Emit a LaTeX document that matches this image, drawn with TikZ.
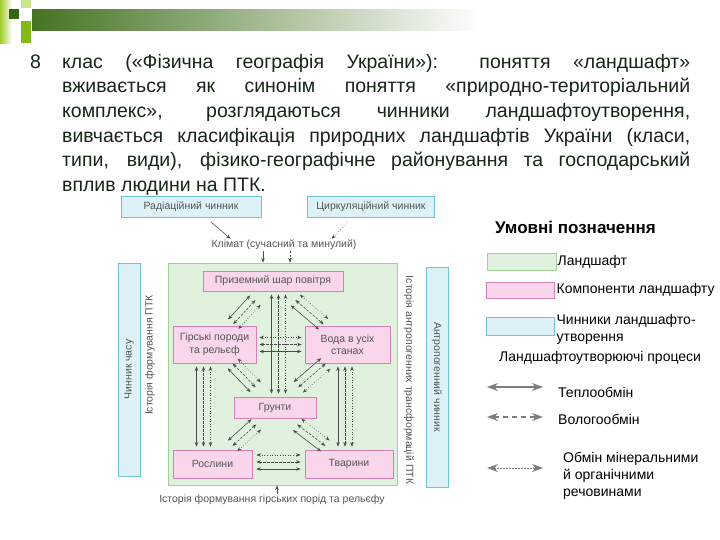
\documentclass[tikz,border=0pt]{standalone}
\usepackage{fontspec}
\setmainfont{Liberation Sans}
\usetikzlibrary{arrows.meta,calc}

\definecolor{landfill}{RGB}{224,241,222}
\definecolor{landline}{RGB}{160,210,150}
\definecolor{compfill}{RGB}{249,214,236}
\definecolor{compline}{RGB}{214,128,184}
\definecolor{factfill}{RGB}{220,242,246}
\definecolor{factline}{RGB}{110,196,214}
\definecolor{diagtext}{RGB}{85,85,85}
\definecolor{flowgray}{RGB}{75,75,75}
\definecolor{leggray}{RGB}{125,125,125}
\definecolor{bodytext}{RGB}{22,38,22}
\definecolor{limeA}{RGB}{160,205,40}
\definecolor{limeB}{RGB}{130,185,20}
\definecolor{darkgr}{RGB}{55,100,20}
\definecolor{barA}{RGB}{70,115,35}
\definecolor{barB}{RGB}{165,180,155}

\newcommand{\dgfont}{\fontsize{10.5}{12.5}\selectfont}
\newcommand{\lgfont}{\fontsize{14}{17}\selectfont}

% three parallel arrows: heat, moisture, minerals
\newcommand{\bundle}[2]{%
  \coordinate (p) at (#1);
  \coordinate (q) at (#2);
  \foreach \s/\k in {-7pt/heat, 0pt/wet, 7pt/mineral}
    \draw[\k] ($(p)!\s!90:(q)$) -- ($(q)!\s!-90:(p)$);
}

\begin{document}
\begin{tikzpicture}[x=1pt, y=-1pt,
    land/.style={draw=landline, fill=landfill, line width=.8pt},
    comp/.style={draw=compline, fill=compfill, line width=.8pt, align=center,
        inner sep=1pt, font=\dgfont, text=diagtext},
    fact/.style={draw=factline, fill=factfill, line width=.8pt, align=center,
        inner sep=1pt, font=\dgfont, text=diagtext},
    lbl/.style={font=\dgfont, text=diagtext, inner sep=1pt},
    flow/.style={{Stealth[length=4.5pt,width=3.5pt]}-{Stealth[length=4.5pt,width=3.5pt]},
        draw=flowgray, line width=.6pt},
    heat/.style={flow},
    wet/.style={flow, dash pattern=on 2.5pt off 1.5pt},
    mineral/.style={flow, dotted},
    into/.style={-{Stealth[length=4.5pt,width=3.5pt]}, draw=flowgray, line width=.6pt},
    legarrow/.style={{Stealth[length=11pt,width=8pt]}-{Stealth[length=11pt,width=8pt]},
        draw=leggray, line width=1.3pt},
    legtext/.style={font=\lgfont, anchor=west, inner sep=0pt, align=left}
  ]
  \useasboundingbox (0,0) rectangle (720,540);

  % slide header
  \shade[left color=limeA, right color=white] (0,0) rectangle (12,44);
  \fill[darkgr] (9,9) rectangle (19,19);
  \fill[limeB] (21,21) rectangle (31,43);
  \fill[limeA!55] (21,0) rectangle (31,8);
  \shade[left color=barA, middle color=barB, right color=white] (32,10) rectangle (480,31);

  % text
  \node[anchor=north west, inner sep=0pt, text width=660pt, align=justify, text=bodytext,
        font=\fontsize{19.5}{24.6}\selectfont] (body) at (30,54)
    {\tolerance=9999 \hyphenpenalty=10000 \exhyphenpenalty=10000
     \hangindent=32pt \hangafter=0 \noindent
     \llap{\makebox[32pt][l]{8}}клас («Фізична географія України»): поняття «ландшафт»\linebreak
     вживається як синонім поняття «природно-територіальний\linebreak
     комплекс», розглядаються чинники ландшафтоутворення,\linebreak
     вивчається класифікація природних ландшафтів України (класи,\linebreak
     типи, види), фізико-географічне районування та господарський\linebreak
     вплив людини на ПТК.\par};

  % factors above
  \node[fact, minimum width=140pt, minimum height=21pt] (rad) at (191,207) {Радіаційний чинник};
  \node[fact, minimum width=127pt, minimum height=21pt] (circ) at (371,207) {Циркуляційний чинник};
  \node[lbl] (clim) at (284,245) {Клімат (сучасний та минулий)};
  \draw[into] ($(rad.south)+(20,4)$) -- ($(clim.north west)+(20,0)$);
  \draw[into, dotted] ($(circ.south)+(-23,4)$) -- ($(clim.north east)+(-26,0)$);

  % landscape
  \node[land, minimum width=229pt, minimum height=222pt] (land) at (282.5,374) {};
  \draw[into] ($(clim.south)+(-21,0)$) -- ($(clim.south |- land.north)+(-21,0)$);
  \draw[into, dash pattern=on 2pt off 1.5pt] ($(clim.south)+(6,0)$) -- ($(clim.south |- land.north)+(6,0)$);

  % side factors
  \node[fact, rotate=90, minimum width=213pt, minimum height=22pt] (time) at (129,369.5) {Чинник часу};
  \node[lbl, rotate=90] (histptk) at (150,355) {Історія формування ПТК};
  \node[lbl, rotate=-90] (histant) at (409,380) {Історія антропогенних трансформацій ПТК};
  \node[fact, rotate=-90, minimum width=220pt, minimum height=22pt] (anth) at (437,377) {Антропогенний чинник};

  % components
  \node[comp, minimum width=140pt, minimum height=20pt] (air) at (273,281) {Приземний шар повітря};
  \node[comp, minimum width=83pt, minimum height=37pt] (rocks) at (214.5,344.5) {Гірські породи\\та рельєф};
  \node[comp, minimum width=85pt, minimum height=37pt] (water) at (347.5,344.5) {Вода в усіх\\станах};
  \node[comp, minimum width=82pt, minimum height=21pt] (soil) at (275,407.5) {Грунти};
  \node[comp, minimum width=79pt, minimum height=28pt] (plants) at (212.5,464) {Рослини};
  \node[comp, minimum width=88pt, minimum height=28pt] (animals) at (349,464) {Тварини};

  % exchanges between components
  \bundle{$(soil.north |- air.south)+(3.5,3)$}{$(soil.north)+(3.5,-3)$}
  \bundle{$(rocks.east)+(3,0)$}{$(water.west)+(-3,0)$}
  \bundle{$(rocks.south)+(-11,3)$}{$(rocks.south |- plants.north)+(-11,-3)$}
  \bundle{$(water.south)+(-2.5,3)$}{$(water.south |- animals.north)+(-2.5,-3)$}
  \bundle{$(plants.east)+(4,-2)$}{$(plants.east -| animals.west)+(-4,-2)$}
  \bundle{$(air)!.3!(rocks)$}{$(air)!.68!(rocks)$}
  \bundle{$(air)!.3!(water)$}{$(air)!.68!(water)$}
  \bundle{$(rocks)!.3!(soil)$}{$(rocks)!.68!(soil)$}
  \bundle{$(water)!.3!(soil)$}{$(water)!.68!(soil)$}
  \bundle{$(soil)!.3!(plants)$}{$(soil)!.68!(plants)$}
  \bundle{$(soil)!.3!(animals)$}{$(soil)!.68!(animals)$}

  \node[lbl] (hist) at (272,500) {Історія формування гірських порід та рельєфу};
  \draw[into] ($(hist.north)+(5,0)$) -- ($(hist.north |- land.south)+(5,0)$);

  % legend
  \node[font=\bfseries\fontsize{17}{20}\selectfont, anchor=west, inner sep=0pt] (leg) at (495,227) {Умовні позначення};
  \node[land, minimum width=69pt, minimum height=17pt, inner sep=0pt] (klan) at (521.5,261.5) {};
  \node[legtext] at ($(klan.east)+(1,0)$) {Ландшафт};
  \node[comp, minimum width=68pt, minimum height=16pt, inner sep=0pt] (kcomp) at (520,290) {};
  \node[legtext] at ($(kcomp.east)+(2,0)$) {Компоненти ландшафту};
  \node[fact, minimum width=68pt, minimum height=18pt, inner sep=0pt] (kfact) at (520,326) {};
  \node[legtext, anchor=north west] at ($(kfact.north east)+(2,-2)$) {Чинники ландшафто-\\утворення};
  \node[legtext] (proc) at (499,358) {Ландшафтоутворюючі процеси};

  \coordinate (h1) at (487,387);
  \coordinate (h2) at (543,387);
  \draw[legarrow] (h1) -- (h2);
  \node[legtext] at (558,392) {Теплообмін};
  \coordinate (w1) at (487,417);
  \coordinate (w2) at (543,417);
  \draw[legarrow, dash pattern=on 5pt off 4pt] (w1) -- (w2);
  \node[legtext] at (558,419) {Вологообмін};
  \coordinate (m1) at (487,468);
  \coordinate (m2) at (543,468);
  \draw[legarrow, line width=1pt, dash pattern=on 1.5pt off 1.5pt] (m1) -- (m2);
  \node[legtext, anchor=north west] at (563,452) {Обмін мінеральними\\й органічними\\речовинами};
\end{tikzpicture}
\end{document}
